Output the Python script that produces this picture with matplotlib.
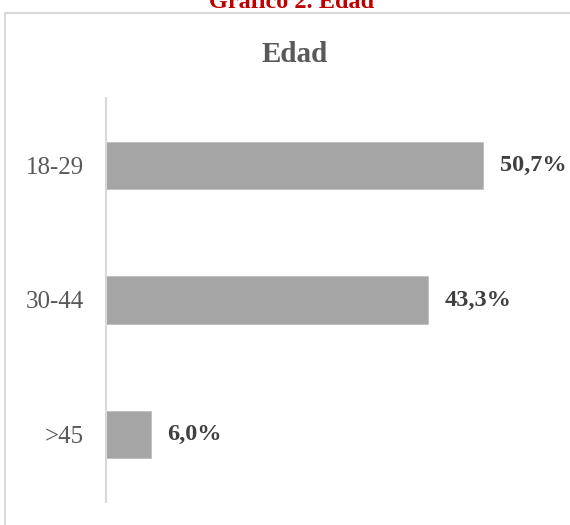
import matplotlib.pyplot as plt
from matplotlib.patches import Rectangle

# datos
categorias = ['18-29', '30-44', '>45']
porcentajes = [50.7, 43.3, 6.0]
etiquetas = ['50,7%', '43,3%', '6,0%']

plt.rcParams['font.family'] = ['Liberation Serif', 'DejaVu Serif']

fig = plt.figure(figsize=(5.7, 5.25), dpi=100)

# marco del grafico
fig.patches.append(Rectangle((5 / 570, -0.1), 1.2, 1 - 13 / 525 + 0.1,
                             transform=fig.transFigure, fill=False,
                             edgecolor='#D9D9D9', linewidth=1.5))

ax = fig.add_axes([106 / 570, 23 / 525, 446 / 570, 404 / 525])

pos = range(len(categorias))
ax.barh(pos, porcentajes, height=0.35, color='#A5A5A5',
        edgecolor='#BFBFBF', linewidth=0.6)

for p, v, t in zip(pos, porcentajes, etiquetas):
    ax.annotate(t, (v, p), xytext=(12, 0), textcoords='offset points',
                ha='left', va='center', fontsize=17.5, fontweight='bold',
                color='#404040')

ax.set_xlim(0, 60)
ax.set_ylim(-0.5, 2.5)
ax.invert_yaxis()
ax.set_yticks(list(pos))
ax.set_yticklabels(categorias, fontsize=18, color='#595959')
ax.tick_params(axis='y', length=0, pad=16)
ax.set_xticks([])
for s in ['top', 'right', 'bottom']:
    ax.spines[s].set_visible(False)
ax.spines['left'].set_color('#D9D9D9')
ax.spines['left'].set_linewidth(1.5)

fig.text(295 / 570, 1 - 55 / 525, 'Edad', ha='center', va='center',
         fontsize=21, fontweight='bold', color='#595959')
fig.text(292 / 570, 1 - 8 / 525, 'Gráfico 2. Edad', ha='center',
         va='baseline', fontsize=17.5, fontweight='bold', color='#C00000')

fig.savefig('out.png', dpi=100)
